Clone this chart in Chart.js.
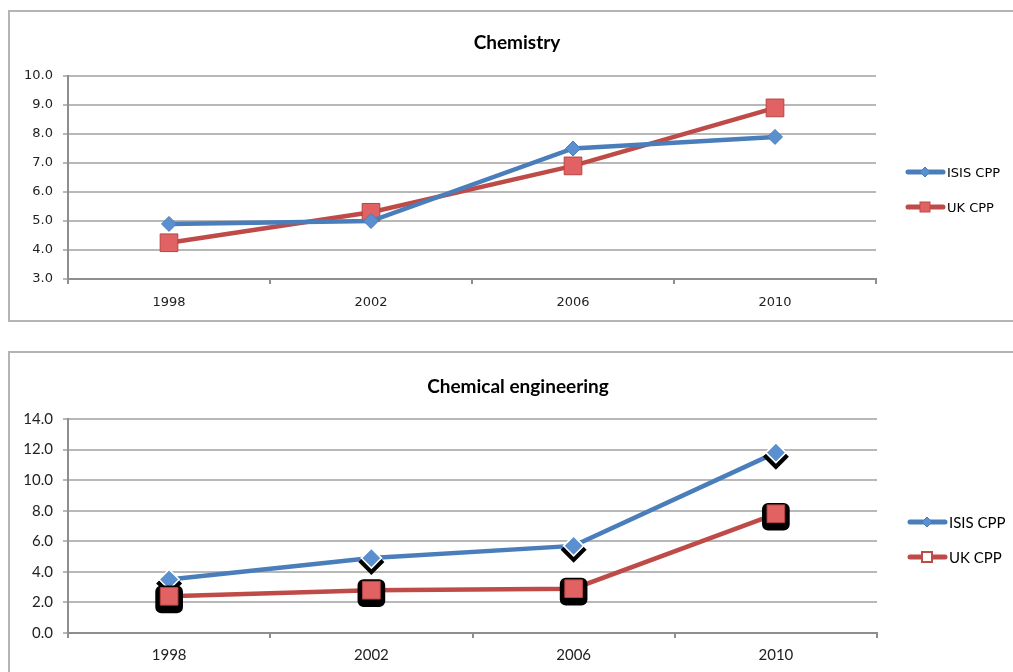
<!DOCTYPE html>
<html><head><meta charset="utf-8">
<script src="https://cdn.jsdelivr.net/npm/chart.js@4/dist/chart.umd.min.js"></script>
<style>
html,body{margin:0;padding:0;background:#fff;overflow:hidden;width:1013px;height:672px;}
.box{position:absolute;border:2px solid #b4b4b4;box-sizing:border-box;background:#fff;}
.cv{position:absolute;left:0;top:0;}
.title{position:absolute;transform:translate(-50%,-50%);font-weight:bold;white-space:nowrap;color:#000;}
.leg{position:absolute;display:flex;align-items:center;white-space:nowrap;color:#000;}
.leg svg{display:block;margin-right:1px;}
</style></head><body>
<div class="box" id="box1" style="left:8px;top:10px;width:1030px;height:312px;">
  <div class="cv" style="width:1003px;height:308px;"><canvas id="c1" width="1003" height="308"></canvas></div>
</div>
<div class="box" id="box2" style="left:8px;top:351px;width:1030px;height:340px;">
  <div class="cv" style="width:1003px;height:319px;"><canvas id="c2" width="1003" height="319"></canvas></div>
</div>
<script>
// ---- data ----
const years = ['1998', '2002', '2006', '2010'];
const seriesNames = ['ISIS CPP', 'UK CPP'];
const chemIsis = [4.9, 5.0, 7.5, 7.9];
const chemUk = [4.25, 5.3, 6.9, 8.9];
const engIsis = [3.5, 4.9, 5.7, 11.8];
const engUk = [2.4, 2.8, 2.9, 7.8];
const chemTitle = 'Chemistry';
const engTitle = 'Chemical engineering';
const chemYTicks = [3, 10, 1];
const engYTicks = [0, 14, 2];

// ---- styles ----
const BLUE = '#4a7ebb', RED = '#be4b48';

function addHtml(boxId, titleText, titleFont, titleX, titleY, legX, legY, legGap, legFont, hollowSquare){
  const box = document.getElementById(boxId);
  const t = document.createElement('div');
  t.className = 'title'; t.textContent = titleText;
  t.style.font = titleFont; t.style.left = titleX + 'px'; t.style.top = titleY + 'px';
  box.appendChild(t);
  seriesNames.forEach((name, i) => {
    const d = document.createElement('div');
    d.className = 'leg';
    d.style.left = legX + 'px'; d.style.top = (legY + i*legGap - 8) + 'px'; d.style.height = '16px';
    d.style.font = legFont;
    const col = i === 0 ? BLUE : RED;
    let marker;
    if (i === 0) marker = `<polygon points="20,3 25,8 20,13 15,8" fill="#5a8fd0" stroke="${col}" stroke-width="1"/>`;
    else marker = hollowSquare
      ? `<rect x="15" y="3" width="10" height="10" fill="#fff" stroke="${col}" stroke-width="2"/>`
      : `<rect x="15" y="3" width="10" height="10" fill="#e06262" stroke="${col}" stroke-width="1"/>`;
    d.innerHTML = `<svg width="41" height="16"><line x1="3" y1="8" x2="38" y2="8" stroke="${col}" stroke-width="5" stroke-linecap="round"/>${marker}</svg><span>${name}</span>`;
    box.appendChild(d);
  });
}

function makeChart(id, isis, uk, yt, opts){
  const gridCol = '#b8b8b8', axisCol = '#8e8e8e';
  const shadowPlugin = {
    id: 'shadowMarks',
    afterDatasetsDraw(chart){
      if (!opts.shadow) return;
      const ctx = chart.ctx;
      chart.data.datasets.forEach((ds, di) => {
        const meta = chart.getDatasetMeta(di);
        meta.data.forEach(el => {
          const o = el.options;
          const r = o.radius;
          ctx.save();
          ctx.fillStyle = '#000';
          ctx.beginPath();
          if (o.pointStyle === 'rectRot') {
            const R = r + 3, x = el.x, y = el.y + 4;
            ctx.moveTo(x, y - R); ctx.lineTo(x + R, y); ctx.lineTo(x, y + R); ctx.lineTo(x - R, y);
          } else {
            const h = r * Math.SQRT1_2 + 5, x = el.x, y = el.y + 3;
            ctx.roundRect ? ctx.roundRect(x - h, y - h, 2*h, 2*h, 6) : ctx.rect(x - h, y - h, 2*h, 2*h);
          }
          ctx.closePath(); ctx.fill();
          ctx.restore();
          el.draw(ctx, chart.chartArea);
        });
      });
    }
  };
  return new Chart(document.getElementById(id), {
    type: 'line',
    data: {
      labels: years,
      datasets: [
        {label: seriesNames[0], data: isis, borderColor: BLUE, borderWidth: 4.5, pointStyle: 'rectRot',
         pointRadius: opts.dRad, pointBackgroundColor: '#5a8fd0', pointBorderColor: opts.shadow ? '#ffffff' : '#4a7ebb', pointBorderWidth: opts.shadow ? 1.5 : 1, tension: 0},
        {label: seriesNames[1], data: uk, borderColor: RED, borderWidth: 4.5, pointStyle: 'rect',
         pointRadius: opts.sRad, pointBackgroundColor: '#e06262', pointBorderColor: '#b84444', pointBorderWidth: 1, tension: 0}
      ]
    },
    options: {
      responsive: false, animation: false, devicePixelRatio: 1,
      layout: {padding: {left: 0, right: opts.padRight, top: opts.padTop, bottom: 0}},
      plugins: {legend: {display: false}, title: {display: false}, tooltip: {enabled: false}},
      scales: {
        x: {
          offset: true,
          grid: {offset: true, drawOnChartArea: false, drawTicks: true, tickLength: 5, color: axisCol, lineWidth: 2},
          border: {display: true, color: axisCol, width: 2},
          ticks: {color: '#222', font: opts.tickFont, padding: opts.xPad, maxRotation: 0},
          afterFit(s){ s.height = opts.xHeight; }
        },
        y: {
          min: yt[0], max: yt[1],
          grid: {color: gridCol, lineWidth: 2, drawTicks: true, tickLength: 5},
          border: {display: true, color: axisCol, width: 2},
          ticks: {stepSize: yt[2], color: '#222', font: opts.tickFont, padding: 10,
                  callback: v => Number(v).toFixed(1)},
          afterFit(s){ s.width = 58; }
        }
      }
    },
    plugins: [shadowPlugin]
  });
}

makeChart('c1', chemIsis, chemUk, chemYTicks,
  {dRad: 7.5, sRad: 12.5, padRight: 137, padTop: 64, xHeight: 41, xPad: 11, shadow: false,
   tickFont: {family: 'DejaVu Sans', size: 13}});
makeChart('c2', engIsis, engUk, engYTicks,
  {dRad: 10, sRad: 12.5, padRight: 136, padTop: 66, xHeight: 39, xPad: 8, shadow: true,
   tickFont: {family: 'Lato', size: 15}});

addHtml('box1', chemTitle, 'bold 19px Lato', 507, 29, 895, 160, 35, '13px "DejaVu Sans"', false);
addHtml('box2', engTitle, 'bold 19px Lato', 508, 32, 897, 169, 35, '15px Lato', true);
</script>
</body></html>
